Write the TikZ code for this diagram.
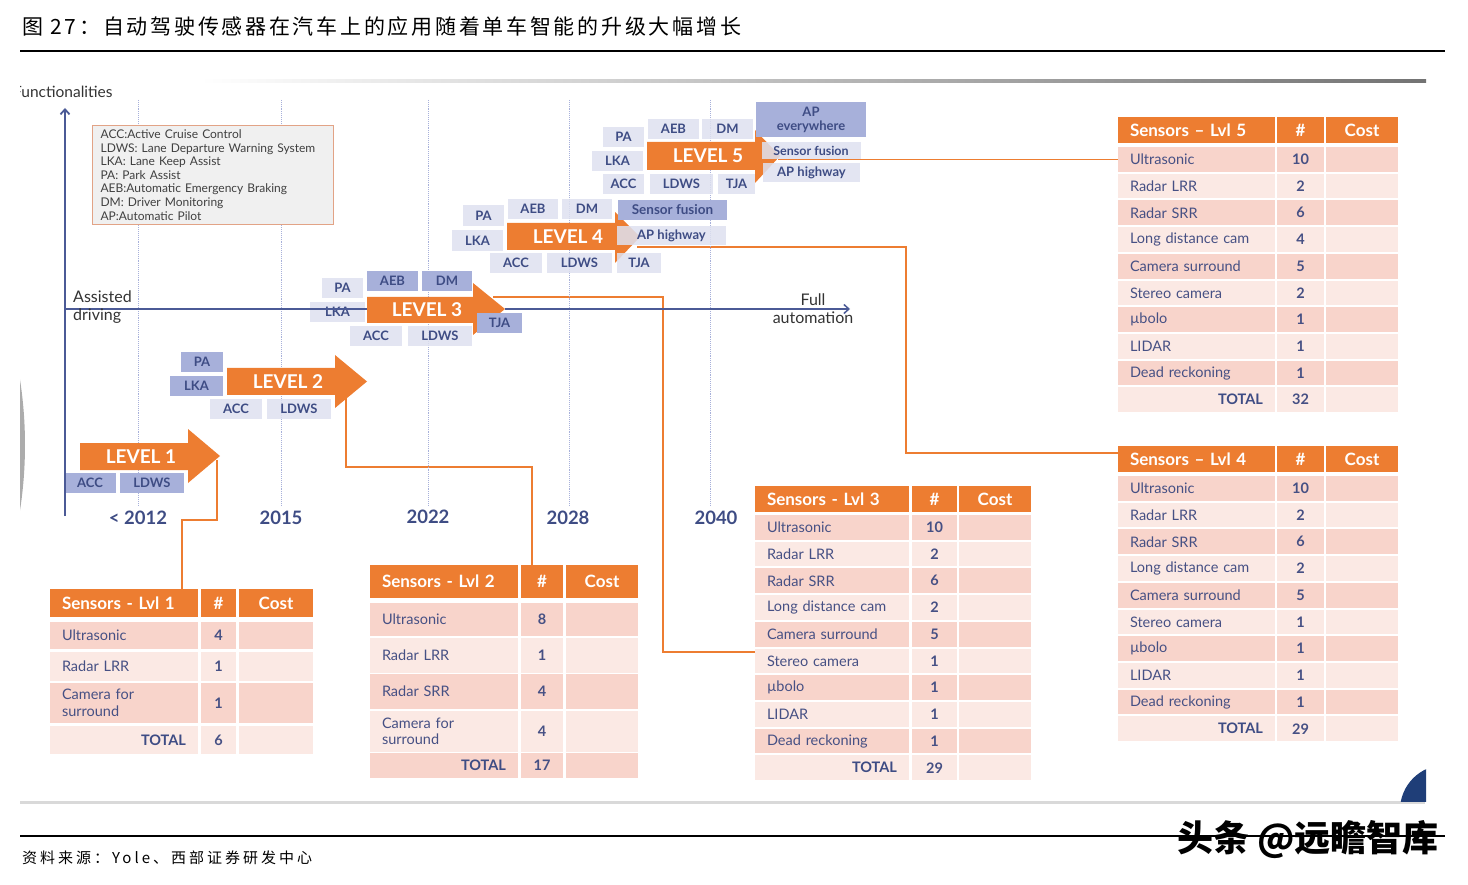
\documentclass[tikz,border=0pt]{standalone}
\usepackage{fontspec}
\setmainfont{Lato}
\newfontfamily\cjk{Noto Sans CJK SC}
\newfontfamily\cjkwide[LetterSpace=13]{Noto Sans CJK SC}
\newfontfamily\cjksrc[LetterSpace=20]{Noto Sans CJK SC}
\usetikzlibrary{arrows.meta,positioning,calc,backgrounds}

\definecolor{lvlorange}{HTML}{ED7D31}
\definecolor{featnavy}{HTML}{3E4C84}
\definecolor{axisblue}{HTML}{4B5A96}
\definecolor{featdark}{HTML}{A7B0DA}
\definecolor{featlight}{HTML}{DEE1F0}
\definecolor{rowdark}{HTML}{F8D4CB}
\definecolor{rowlight}{HTML}{FBE9E4}
\definecolor{legendline}{HTML}{E2A386}
\definecolor{celltext}{HTML}{465084}
\definecolor{cornerblue}{HTML}{1F3E78}

\begin{document}
\begin{tikzpicture}[x=1pt, y=-1pt,
    feat/.style={rectangle, inner sep=0pt, font=\fontsize{13}{14}\selectfont\bfseries, text=featnavy},
    fdark/.style={feat, fill=featdark},
    flight/.style={feat, fill=featlight, fill opacity=0.85, text opacity=1},
    lvltext/.style={font=\fontsize{19}{19}\selectfont\bfseries, text=white, inner sep=0pt},
    conn/.style={draw=lvlorange, line width=1.2pt},
    yearlbl/.style={font=\fontsize{18.5}{19}\selectfont\bfseries, text=featnavy},
    grid/.style={draw=featdark, densely dotted, line width=0.9pt},
    axislbl/.style={font=\fontsize{16}{16}\selectfont, text=black!80, inner sep=0pt},
    thead/.style={fill=lvlorange, text=white, font=\fontsize{17}{17}\selectfont\bfseries, inner sep=0pt},
    tcell/.style={inner sep=0pt, text=celltext, font=\fontsize{14.5}{16.5}\selectfont},
    tfirst/.style={inner xsep=12pt, align=left},
    tname/.style={},
    ttotal/.style={align=right, font=\fontsize{14.5}{15}\selectfont\bfseries, text=featnavy},
    tnum/.style={tcell, font=\fontsize{14.5}{15}\selectfont\bfseries}
]
\useasboundingbox (0,0) rectangle (1468,885);

% title and frame lines
\node[anchor=west, inner sep=0pt, font=\cjkwide\fontsize{21}{21}\selectfont] (title) at (22,27) {图 27：自动驾驶传感器在汽车上的应用随着单车智能的升级大幅增长};
\draw[line width=2.5pt] (20,51) -- (1445,51);
\draw[black!15, line width=3pt] (20,802) -- (1425,802);
\draw[line width=2.5pt] (20,836) -- (1445,836);
\node[anchor=west, inner sep=0pt, font=\cjksrc\fontsize{15}{15}\selectfont] (source) at (22,858) {资料来源：Yole、西部证券研发中心};
\node[inner sep=0pt, font=\cjk\bfseries\fontsize{36}{36}\selectfont] (mark) at (1308,840) {头条 @远瞻智库};

\begin{scope}
\clip (20,60) rectangle (1426,801);
\fill[gray!65] (-400,445) circle [radius=425pt];
\fill[cornerblue] (1445,810) circle [radius=45pt];
\shade[left color=white, right color=black!55] (200,79.5) rectangle (1426,82.5);
\node[anchor=west, axislbl, font=\fontsize{15.5}{15.5}\selectfont] (functxt) at (13,92) {Functionalities};

% time grid
\foreach \gx in {138,281,428,569,710}
    \draw[grid] (\gx,100) -- (\gx,505);
\node[yearlbl] (y2012) at (138,518) {< 2012};
\node[yearlbl] (y2015) at (281,518) {2015};
\node[yearlbl] (y2022) at (428,517) {2022};
\node[yearlbl] (y2028) at (568,518) {2028};
\node[yearlbl] (y2040) at (716,518) {2040};

% legend
\node[anchor=north west, draw=legendline, fill=black!6, line width=1.2pt, text width=225pt, align=left,
      inner xsep=8pt, inner ysep=4pt, font=\fontsize{12}{13.6}\selectfont, text=black!75] (legend) at (92,125)
    {ACC:Active Cruise Control\\
     LDWS: Lane Departure Warning System\\
     LKA: Lane Keep Assist\\
     PA: Park Assist\\
     AEB:Automatic Emergency Braking\\
     DM: Driver Monitoring\\
     AP:Automatic Pilot};

% connectors
\coordinate (tip1) at (217,460);
\coordinate (tip2) at (346,393);
\coordinate (tip3) at (493,297);
\coordinate (tip4) at (637,247);
\coordinate (tip5) at (778,159.4);

% level arrows
\fill[lvlorange] (80,443) -- (188,443) -- (188,429) -- (220,456) -- (188,483) -- (188,470) -- (80,470) -- cycle;
\node[lvltext] (lvl1) at (141,456.5) {LEVEL 1};
\fill[lvlorange] (227,368) -- (335,368) -- (335,355) -- (367,381.5) -- (335,408) -- (335,395) -- (227,395) -- cycle;
\node[lvltext] (lvl2) at (288,381.5) {LEVEL 2};
\fill[lvlorange] (367,297) -- (473,297) -- (473,283) -- (505,309) -- (473,335) -- (473,323) -- (367,323) -- cycle;
\node[lvltext] (lvl3) at (427,310) {LEVEL 3};
\fill[lvlorange] (507,223) -- (615,223) -- (615,212) -- (640,237) -- (615,263) -- (615,250) -- (507,250) -- cycle;
\node[lvltext] (lvl4) at (568,236.5) {LEVEL 4};
\fill[lvlorange] (647,142) -- (755,142) -- (755,130) -- (780,156) -- (755,183) -- (755,170) -- (647,170) -- cycle;
\node[lvltext] (lvl5) at (708,156) {LEVEL 5};

% level 1 features
\node[fdark, minimum width=52pt, minimum height=20pt] (l1acc) at (90,483) {ACC};
\node[fdark, minimum width=64pt, minimum height=20pt] (l1ldws) at (152,483) {LDWS};

% level 2 features
\node[fdark, minimum width=42pt, minimum height=20pt] (l2pa) at (202,362) {PA};
\node[fdark, minimum width=53pt, minimum height=20pt] (l2lka) at (196.5,386) {LKA};
\node[flight, minimum width=52pt, minimum height=20pt] (l2acc) at (236,409) {ACC};
\node[flight, minimum width=64pt, minimum height=20pt] (l2ldws) at (299,409) {LDWS};

% level 3 features
\node[flight, minimum width=41pt, minimum height=20pt] (l3pa) at (342.5,288) {PA};
\node[flight, minimum width=55pt, minimum height=20pt] (l3lka) at (337.5,312) {LKA};
\node[fdark, minimum width=51pt, minimum height=20pt] (l3aeb) at (392.5,281) {AEB};
\node[fdark, minimum width=50pt, minimum height=20pt] (l3dm) at (447,281) {DM};
\node[flight, minimum width=52pt, minimum height=20pt] (l3acc) at (376,336) {ACC};
\node[flight, minimum width=64pt, minimum height=20pt] (l3ldws) at (440,336) {LDWS};
\node[fdark, minimum width=45pt, minimum height=20pt] (l3tja) at (499.5,323) {TJA};

% level 4 features
\node[flight, minimum width=41pt, minimum height=21pt] (l4pa) at (483.5,215.5) {PA};
\node[flight, minimum width=50pt, minimum height=20pt] (l4aeb) at (533,209) {AEB};
\node[flight, minimum width=50pt, minimum height=20pt] (l4dm) at (587,209) {DM};
\node[fdark, minimum width=109pt, minimum height=20pt, font=\fontsize{13.5}{14}\selectfont\bfseries] (l4fus) at (672.5,210) {Sensor fusion};
\node[flight, minimum width=51pt, minimum height=21pt] (l4lka) at (477.5,240.5) {LKA};
\node[flight, minimum width=109pt, minimum height=19pt, font=\fontsize{13}{14}\selectfont\bfseries] (l4aph) at (671.5,235.5) {AP highway};
\node[flight, minimum width=52pt, minimum height=20pt] (l4acc) at (516,263) {ACC};
\node[flight, minimum width=65pt, minimum height=20pt] (l4ldws) at (579.5,263) {LDWS};
\node[flight, minimum width=44pt, minimum height=20pt] (l4tja) at (639,263) {TJA};

% level 5 features
\node[flight, minimum width=41pt, minimum height=20pt] (l5pa) at (623.5,137) {PA};
\node[flight, minimum width=51pt, minimum height=20pt] (l5aeb) at (673.5,129) {AEB};
\node[flight, minimum width=51pt, minimum height=20pt] (l5dm) at (727.5,129) {DM};
\node[fdark, minimum width=110pt, minimum height=35pt, align=center, font=\fontsize{13}{14}\selectfont\bfseries] (l5ape) at (811,119.5) {AP\\everywhere};
\node[flight, minimum width=99pt, minimum height=17pt, font=\fontsize{12.5}{13}\selectfont\bfseries] (l5fus) at (811,150.5) {Sensor fusion};
\node[flight, minimum width=97pt, minimum height=19pt, font=\fontsize{13}{14}\selectfont\bfseries] (l5aph) at (811.5,172.5) {AP highway};
\node[flight, minimum width=51pt, minimum height=20pt] (l5lka) at (617.5,161) {LKA};
\node[flight, minimum width=41pt, minimum height=20pt] (l5acc) at (623.5,184) {ACC};
\node[flight, minimum width=63pt, minimum height=20pt] (l5ldws) at (681.5,184) {LDWS};
\node[flight, minimum width=37pt, minimum height=20pt] (l5tja) at (736.5,184) {TJA};

% axes
\draw[axisblue, line width=1.8pt, -{Straight Barb[length=5pt, width=9pt]}] (65,516) -- (65,108);
\draw[axisblue, line width=1.5pt] (65,309) -- (367,309);
\draw[axisblue, line width=1.5pt, -{Straight Barb[length=5pt, width=9pt]}] (505,309) -- (850,309);
\node[axislbl, anchor=west] (assisted) at (73,297) {Assisted};
\node[axislbl, anchor=west] (driving) at (73,316) {driving};
\node[axislbl] (full) at (813,300) {Full};
\node[axislbl] (autom) at (813,318) {automation};

% table lvl 1
\node[thead, tfirst, text width=124pt, minimum height=28pt] (t1h1) at (124,603) {Sensors - Lvl 1};
\node[thead, minimum width=35pt, minimum height=28pt] (t1h2) at (218.5,603) {\#};
\node[thead, minimum width=74pt, minimum height=28pt] (t1h3) at (276,603) {Cost};
\foreach \i/\yc/\h/\sname/\num/\rf/\st in {1/635.5/27/Ultrasonic/4/rowdark/tname, 2/666.5/29/Radar LRR/1/rowlight/tname,
        3/703/40/{Camera for\\surround}/1/rowdark/tname, 4/740/28/TOTAL/6/rowlight/ttotal} {
    \node[tcell, tfirst, \st, fill=\rf, text width=124pt, minimum height=\h pt] (t1r\i) at (124,\yc) {\sname};
    \node[tnum, fill=\rf, minimum width=35pt, minimum height=\h pt] (t1n\i) at (218.5,\yc) {\num};
    \node[tcell, fill=\rf, minimum width=74pt, minimum height=\h pt] (t1k\i) at (276,\yc) {};
}

% table lvl 2
\node[thead, tfirst, text width=124pt, minimum height=33pt] (t2h1) at (444,581.5) {Sensors - Lvl 2};
\node[thead, minimum width=42pt, minimum height=33pt] (t2h2) at (542,581.5) {\#};
\node[thead, minimum width=72pt, minimum height=33pt] (t2h3) at (602,581.5) {Cost};
\foreach \i/\yc/\h/\sname/\num/\rf/\st in {1/619.5/33/Ultrasonic/8/rowdark/tname, 2/655.5/35/Radar LRR/1/rowlight/tname,
        3/691.5/35/Radar SRR/4/rowdark/tname, 4/731.5/41/{Camera for\\surround}/4/rowlight/tname, 5/765.5/25/TOTAL/17/rowdark/ttotal} {
    \node[tcell, tfirst, \st, fill=\rf, text width=124pt, minimum height=\h pt] (t2r\i) at (444,\yc) {\sname};
    \node[tnum, fill=\rf, minimum width=42pt, minimum height=\h pt] (t2n\i) at (542,\yc) {\num};
    \node[tcell, fill=\rf, minimum width=72pt, minimum height=\h pt] (t2k\i) at (602,\yc) {};
}

% table lvl 3
\node[thead, tfirst, text width=130pt, minimum height=26pt] (t3h1) at (832,499) {Sensors - Lvl 3};
\node[thead, minimum width=45pt, minimum height=26pt] (t3h2) at (934.5,499) {\#};
\node[thead, minimum width=72pt, minimum height=26pt] (t3h3) at (995,499) {Cost};
\foreach \i/\sname/\num/\rf/\st in {1/Ultrasonic/10/rowdark/tname, 2/Radar LRR/2/rowlight/tname, 3/Radar SRR/6/rowdark/tname,
        4/Long distance cam/2/rowlight/tname, 5/Camera surround/5/rowdark/tname, 6/Stereo camera/1/rowlight/tname,
        7/µbolo/1/rowdark/tname, 8/LIDAR/1/rowlight/tname, 9/Dead reckoning/1/rowdark/tname, 10/TOTAL/29/rowlight/ttotal} {
    \node[tcell, tfirst, \st, fill=\rf, text width=130pt, minimum height=24.7pt] (t3r\i) at (832,{527.4+26.7*(\i-1)}) {\sname};
    \node[tnum, fill=\rf, minimum width=45pt, minimum height=24.7pt] (t3n\i) at (934.5,{527.4+26.7*(\i-1)}) {\num};
    \node[tcell, fill=\rf, minimum width=72pt, minimum height=24.7pt] (t3k\i) at (995,{527.4+26.7*(\i-1)}) {};
}

% table lvl 4
\node[thead, tfirst, text width=133pt, minimum height=26pt] (t4h1) at (1196.5,459) {Sensors – Lvl 4};
\node[thead, minimum width=47pt, minimum height=26pt] (t4h2) at (1300.5,459) {\#};
\node[thead, minimum width=72pt, minimum height=26pt] (t4h3) at (1362,459) {Cost};
\foreach \i/\sname/\num/\rf/\st in {1/Ultrasonic/10/rowdark/tname, 2/Radar LRR/2/rowlight/tname, 3/Radar SRR/6/rowdark/tname,
        4/Long distance cam/2/rowlight/tname, 5/Camera surround/5/rowdark/tname, 6/Stereo camera/1/rowlight/tname,
        7/µbolo/1/rowdark/tname, 8/LIDAR/1/rowlight/tname, 9/Dead reckoning/1/rowdark/tname, 10/TOTAL/29/rowlight/ttotal} {
    \node[tcell, tfirst, \st, fill=\rf, text width=133pt, minimum height=24.7pt] (t4r\i) at (1196.5,{488.4+26.7*(\i-1)}) {\sname};
    \node[tnum, fill=\rf, minimum width=47pt, minimum height=24.7pt] (t4n\i) at (1300.5,{488.4+26.7*(\i-1)}) {\num};
    \node[tcell, fill=\rf, minimum width=72pt, minimum height=24.7pt] (t4k\i) at (1362,{488.4+26.7*(\i-1)}) {};
}

% table lvl 5
\node[thead, tfirst, text width=133pt, minimum height=26pt] (t5h1) at (1196.5,130) {Sensors – Lvl 5};
\node[thead, minimum width=47pt, minimum height=26pt] (t5h2) at (1300.5,130) {\#};
\node[thead, minimum width=72pt, minimum height=26pt] (t5h3) at (1362,130) {Cost};
\foreach \i/\sname/\num/\rf/\st in {1/Ultrasonic/10/rowdark/tname, 2/Radar LRR/2/rowlight/tname, 3/Radar SRR/6/rowdark/tname,
        4/Long distance cam/4/rowlight/tname, 5/Camera surround/5/rowdark/tname, 6/Stereo camera/2/rowlight/tname,
        7/µbolo/1/rowdark/tname, 8/LIDAR/1/rowlight/tname, 9/Dead reckoning/1/rowdark/tname, 10/TOTAL/32/rowlight/ttotal} {
    \node[tcell, tfirst, \st, fill=\rf, text width=133pt, minimum height=24.7pt] (t5r\i) at (1196.5,{159.4+26.7*(\i-1)}) {\sname};
    \node[tnum, fill=\rf, minimum width=47pt, minimum height=24.7pt] (t5n\i) at (1300.5,{159.4+26.7*(\i-1)}) {\num};
    \node[tcell, fill=\rf, minimum width=72pt, minimum height=24.7pt] (t5k\i) at (1362,{159.4+26.7*(\i-1)}) {};
}
\end{scope}

% level to table connectors, behind arrows and boxes
\begin{pgfonlayer}{background}
\draw[conn] (tip1) -- ++(0,60) -| ([xshift=58pt]t1h1.north);
\draw[conn] (tip2) -- ++(0,74) -| ([xshift=-10pt]t2h2.north);
\draw[conn] (tip3) -- ++(170,0) |- ([yshift=9pt]t3r6.west);
\draw[conn] (tip4) -- ++(269,0) |- ([yshift=6pt]t4h1.west);
\draw[conn] (tip5) -- (t5r1.west);
\end{pgfonlayer}
\end{tikzpicture}
\end{document}
